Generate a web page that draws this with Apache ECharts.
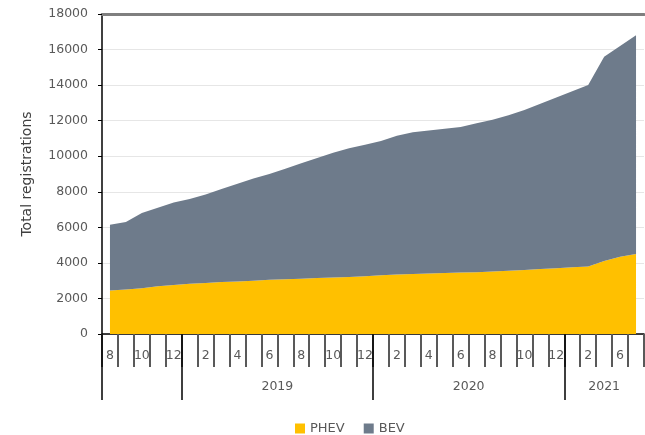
<!DOCTYPE html>
<html>
<head>
<meta charset="utf-8">
<script src="https://cdn.jsdelivr.net/npm/echarts@6/dist/echarts.min.js"></script>
<style>html,body{margin:0;padding:0;background:#fff}#c{width:645px;height:435px}</style>
</head>
<body>
<div id="c"></div>
<script>
// Years and the months shown in each
const years = ['2018', '2019', '2020', '2021'];
const yearLabels = ['', '2019', '2020', '2021'];
const monthsPerYear = [
  ['8', '9', '10', '11', '12'],
  ['1', '2', '3', '4', '5', '6', '7', '8', '9', '10', '11', '12'],
  ['1', '2', '3', '4', '5', '6', '7', '8', '9', '10', '11', '12'],
  ['1', '2', '3', '6', '7']
];
// Series values (stacked)
const phev = [
  2450, 2500, 2580, 2680, 2760,
  2820, 2870, 2920, 2960, 3000, 3050, 3080, 3110, 3150, 3180, 3210, 3250,
  3300, 3350, 3380, 3400, 3430, 3460, 3480, 3520, 3560, 3600, 3650, 3700,
  3750, 3800, 4100, 4350, 4500
];
const bev = [
  3700, 3800, 4220, 4420, 4640,
  4780, 4980, 5230, 5490, 5750, 5950, 6220, 6490, 6750, 7020, 7240, 7400,
  7550, 7800, 7970, 8050, 8120, 8190, 8370, 8530, 8740, 9000, 9300, 9600,
  9900, 10200, 11500, 11850, 12300
];
const yTicks = [0, 2000, 4000, 6000, 8000, 10000, 12000, 14000, 16000, 18000];

const categories = monthsPerYear.flat();
const n = categories.length;
const yearStarts = [];
const yearMids = [];
let acc = 0;
monthsPerYear.forEach(m => { yearStarts.push(acc); yearMids.push(acc + m.length / 2); acc += m.length; });
const midToLabel = {};
yearMids.forEach((v, i) => { midToLabel[v] = yearLabels[i]; });

const FONT = 'DejaVu Sans';
const TXT = '#595959';
const chart = echarts.init(document.getElementById('c'), null, { renderer: 'canvas' });
chart.setOption({
  animation: false,
  textStyle: { fontFamily: FONT },
  grid: { left: 102, right: 1, top: 14, bottom: 101, containLabel: false },
  legend: {
    data: ['PHEV', 'BEV'],
    left: 290, top: 417,
    icon: 'rect', itemWidth: 10, itemHeight: 10, itemGap: 19,
    textStyle: { color: TXT, fontSize: 13, fontFamily: FONT }
  },
  xAxis: [
    {
      type: 'category', data: categories, boundaryGap: true, position: 'bottom',
      axisLine: { show: true, lineStyle: { color: '#000', width: 1.5 } },
      axisTick: { show: true, interval: 0, length: 33, lineStyle: { color: '#595959', width: 2 } },
      axisLabel: { interval: 1, margin: 15, color: TXT, fontSize: 12.5, fontFamily: FONT },
      splitLine: { show: false }
    },
    {
      type: 'value', min: 0, max: n, position: 'bottom',
      axisLine: { show: false },
      splitLine: { show: false },
      axisTick: { show: true, customValues: yearStarts, length: 66, lineStyle: { color: '#000', width: 1.5 } },
      axisLabel: {
        customValues: yearMids, margin: 46, color: TXT, fontSize: 12.5, fontFamily: FONT,
        formatter: v => midToLabel[v] || ''
      }
    },
    {
      type: 'value', min: 0, max: n, position: 'top',
      axisLine: { show: true, lineStyle: { color: '#7f7f7f', width: 3 } },
      axisTick: { show: false }, axisLabel: { show: false }, splitLine: { show: false }
    }
  ],
  yAxis: {
    type: 'value', min: yTicks[0], max: yTicks[yTicks.length - 1], interval: yTicks[1] - yTicks[0],
    name: 'Total registrations', nameLocation: 'middle', nameGap: 68,
    nameTextStyle: { color: '#404040', fontSize: 14, fontFamily: FONT },
    axisLine: { show: true, lineStyle: { color: '#000', width: 1.5 } },
    axisTick: { show: true, length: 4, lineStyle: { color: '#000' } },
    axisLabel: { color: TXT, fontSize: 12.5, margin: 14, fontFamily: FONT, formatter: v => String(v) },
    splitLine: { show: true, lineStyle: { color: '#e6e6e6', width: 1 } }
  },
  series: [
    {
      name: 'PHEV', type: 'line', stack: 'total', data: phev, xAxisIndex: 0,
      symbol: 'none', lineStyle: { width: 0 }, color: '#FFC000',
      areaStyle: { color: '#FFC000', opacity: 1 }
    },
    {
      name: 'BEV', type: 'line', stack: 'total', data: bev, xAxisIndex: 0,
      symbol: 'none', lineStyle: { width: 0 }, color: '#6E7B8B',
      areaStyle: { color: '#6E7B8B', opacity: 1 }
    }
  ]
});
</script>
</body>
</html>
